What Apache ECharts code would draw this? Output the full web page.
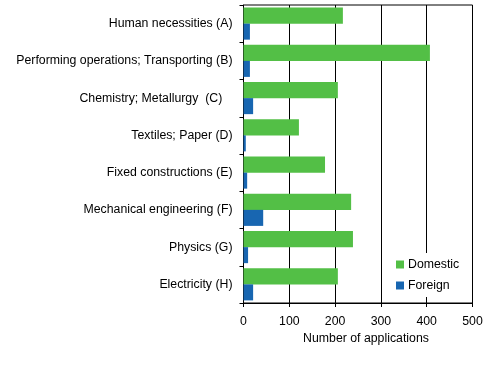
<!DOCTYPE html>
<html>
<head>
<meta charset="utf-8">
<script src="https://cdn.jsdelivr.net/npm/echarts@6/dist/echarts.min.js"></script>
<style>html,body{margin:0;padding:0;background:#fff;}#c{width:493px;height:379px;}</style>
</head>
<body>
<div id="c"></div>
<script>
var categories = ["Human necessities (A)", "Performing operations; Transporting (B)", "Chemistry; Metallurgy  (C)   ", "Textiles; Paper (D)", "Fixed constructions (E)", "Mechanical engineering (F)", "Physics (G)", "Electricity (H)"];
var domestic = [217, 407, 206, 121, 178, 235, 239, 206];
var foreign = [14, 14, 21, 5, 8, 43, 10, 21];
var xTicks = [0, 100, 200, 300, 400, 500];

var chart = echarts.init(document.getElementById('c'), null, {renderer: 'canvas'});
var font = 'Liberation Sans, Arial, sans-serif';
var fs = 12.3;
chart.setOption({
  animation: false,
  backgroundColor: '#fff',
  textStyle: {fontFamily: font},
  grid: {left: 243.5, right: 20.5, top: 5, bottom: 76, show: true, borderColor: '#000', borderWidth: 1, backgroundColor: 'transparent'},
  legend: {
    orient: 'vertical', left: 392, top: 253,
    backgroundColor: '#fff', padding: [4, 6, 4, 4],
    itemWidth: 8, itemHeight: 8, itemGap: 6,
    icon: 'rect',
    textStyle: {fontFamily: font, fontSize: fs, color: '#000', lineHeight: 14, padding: [1,0,0,-1]},
    data: ['Domestic', 'Foreign']
  },
  xAxis: {
    type: 'value', min: xTicks[0], max: xTicks[xTicks.length - 1], interval: 100,
    axisLine: {show: true, lineStyle: {color: '#000', width: 1}},
    axisTick: {show: true, length: 4, lineStyle: {color: '#000'}},
    axisLabel: {color: '#000', fontSize: fs, fontFamily: font, margin: 13},
    splitLine: {show: true, lineStyle: {color: '#000', width: 1}},
    name: 'Number of applications', nameLocation: 'middle', nameGap: 29,
    nameTextStyle: {color: '#000', fontSize: fs, fontFamily: font, padding: [0, 0, 0, 16]}
  },
  yAxis: {
    type: 'category', data: categories, inverse: true,
    axisLine: {show: true, lineStyle: {color: '#000', width: 1}},
    axisTick: {show: true, length: 4, lineStyle: {color: '#000'}},
    axisLabel: {color: '#000', fontSize: fs, fontFamily: font, margin: 11, padding: [3, 0, 0, 0]}
  },
  series: [
    {name: 'Domestic', type: 'bar', data: domestic, itemStyle: {color: '#53bf46'}, barGap: '0%', barCategoryGap: '14%'},
    {name: 'Foreign', type: 'bar', data: foreign, itemStyle: {color: '#1866b1'}, barGap: '0%', barCategoryGap: '14%'}
  ]
});
</script>
</body>
</html>
